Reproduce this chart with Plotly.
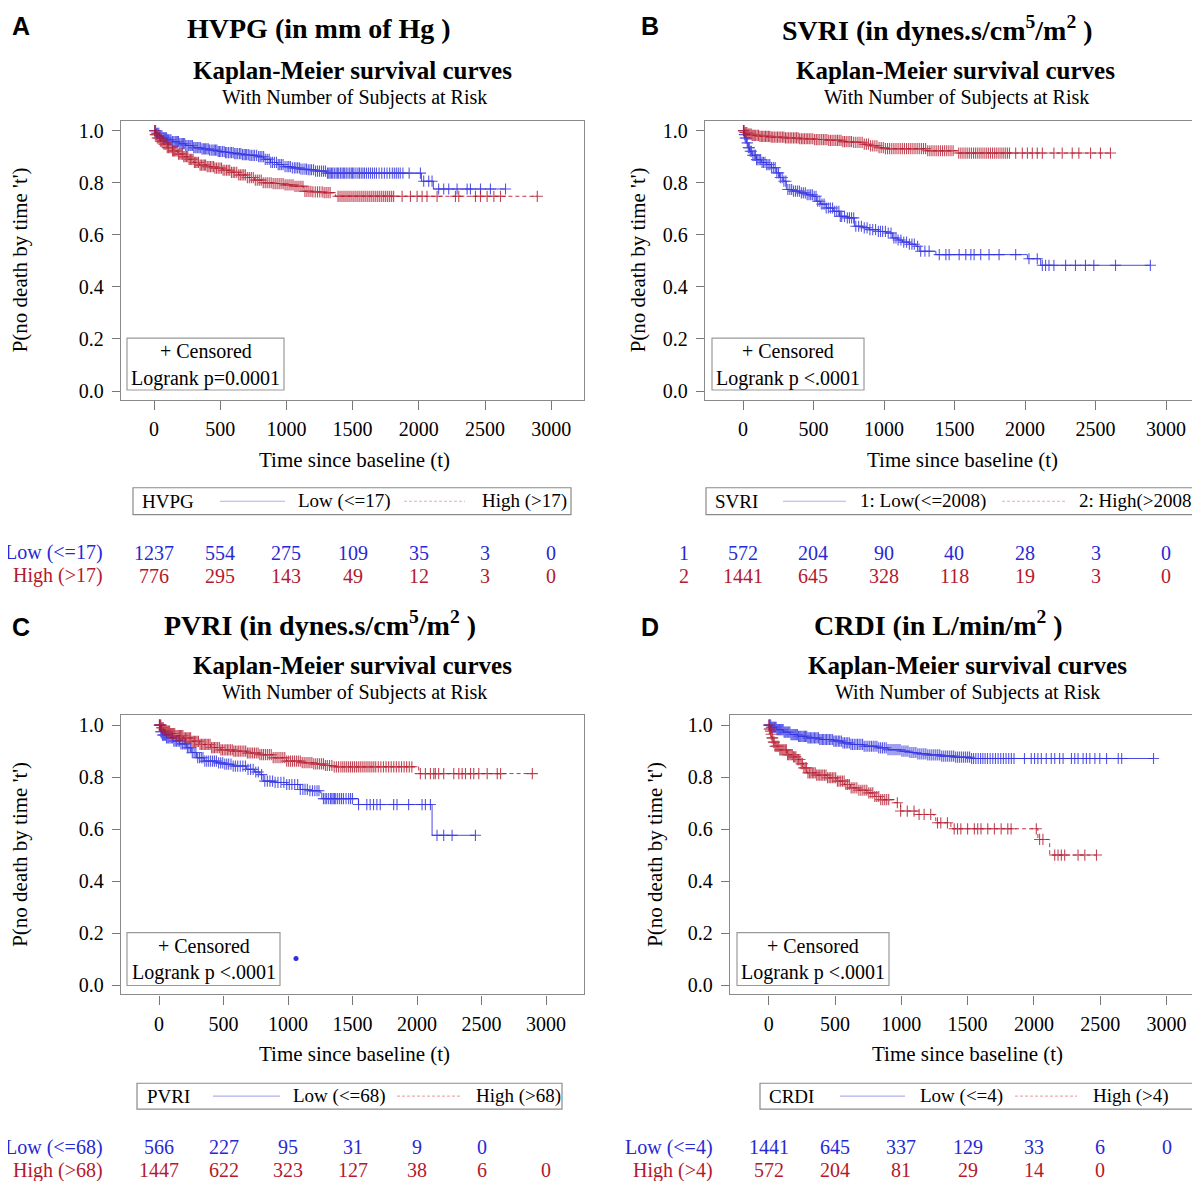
import numpy as np
import plotly.graph_objects as go

# page is rendered with an 8px body margin: figure coordinates are shifted by OFF
OFF = 8
W, H = 1200 - OFF, 1181 - OFF
SERIF = "Liberation Serif"
SANS = "Liberation Sans"
BLUE = "rgb(45,45,225)"
RED = "rgb(180,22,42)"
BLUE_TXT = "rgb(40,40,215)"
RED_TXT = "rgb(180,25,45)"

# ---------------- data ----------------
risk_times = [0, 500, 1000, 1500, 2000, 2500, 3000]
x_ticks = [0, 500, 1000, 1500, 2000, 2500, 3000]
y_ticks = [0.0, 0.2, 0.4, 0.6, 0.8, 1.0]

# Panel A: HVPG
a_low_t = [0, 15, 40, 70, 100, 140, 190, 240, 300, 360, 420, 480, 540, 600, 660, 720, 780, 830, 880, 930, 980, 1040, 1100, 1160, 1220, 1300, 2020, 2110]
a_low_s = [1.0, 0.99, 0.98, 0.972, 0.965, 0.958, 0.95, 0.943, 0.935, 0.93, 0.925, 0.92, 0.916, 0.912, 0.908, 0.905, 0.9, 0.89, 0.878, 0.87, 0.862, 0.857, 0.852, 0.85, 0.845, 0.837, 0.806, 0.776]
a_low_cens = [6, 12, 20, 28, 36, 45, 52, 60, 70, 78, 86, 95, 102, 110, 120, 128, 140, 150, 160, 168, 176, 185, 195, 205, 214, 222, 232, 240, 250, 262, 272, 280, 290, 300, 310, 318, 330, 340, 350, 362, 372, 380, 390, 400, 410, 420, 432, 445, 455, 465, 475, 485, 495, 505, 518, 530, 540, 550, 562, 575, 586, 598, 610, 620, 632, 645, 656, 668, 680, 690, 700, 712, 724, 735, 748, 760, 775, 790, 802, 815, 828, 840, 855, 870, 882, 895, 910, 925, 938, 950, 962, 975, 990, 1005, 1018, 1030, 1045, 1060, 1072, 1085, 1098, 1110, 1125, 1140, 1152, 1165, 1178, 1190, 1205, 1220, 1235, 1250, 1265, 1280, 1295, 1310, 1320, 1330, 1340, 1350, 1362, 1375, 1385, 1395, 1408, 1420, 1430, 1440, 1452, 1465, 1478, 1490, 1500, 1510, 1525, 1540, 1552, 1565, 1578, 1590, 1605, 1620, 1635, 1650, 1665, 1680, 1700, 1720, 1740, 1760, 1780, 1800, 1815, 1830, 1845, 1860, 1880, 1927, 2012, 2037, 2075, 2100, 2150, 2188, 2226, 2289, 2365, 2390, 2466, 2541, 2655]
a_high_t = [0, 10, 25, 45, 70, 100, 140, 180, 220, 260, 300, 340, 400, 460, 520, 580, 640, 700, 760, 820, 900, 980, 1060, 1130, 1200, 1280, 1370]
a_high_s = [1.0, 0.985, 0.972, 0.96, 0.948, 0.935, 0.922, 0.91, 0.9, 0.89, 0.878, 0.868, 0.862, 0.856, 0.848, 0.84, 0.83, 0.82, 0.81, 0.8, 0.797, 0.792, 0.786, 0.767, 0.765, 0.762, 0.748]
a_high_cens = [5, 10, 17, 25, 32, 40, 48, 58, 66, 75, 84, 92, 100, 110, 120, 130, 140, 148, 156, 165, 175, 185, 195, 205, 215, 225, 235, 245, 255, 265, 275, 285, 295, 305, 315, 325, 336, 348, 358, 370, 380, 390, 402, 415, 426, 438, 450, 460, 472, 485, 498, 510, 522, 535, 548, 560, 572, 585, 598, 610, 625, 640, 652, 665, 678, 690, 705, 720, 735, 750, 765, 780, 795, 810, 825, 840, 855, 870, 885, 900, 915, 930, 945, 960, 975, 990, 1005, 1020, 1035, 1050, 1065, 1080, 1095, 1110, 1125, 1140, 1155, 1170, 1185, 1200, 1218, 1235, 1252, 1270, 1285, 1300, 1315, 1330, 1390, 1405, 1420, 1435, 1450, 1465, 1480, 1495, 1510, 1525, 1540, 1555, 1570, 1585, 1600, 1615, 1630, 1645, 1660, 1675, 1690, 1705, 1720, 1735, 1750, 1765, 1780, 1795, 1810, 1874, 1937, 1987, 2025, 2062, 2138, 2277, 2302, 2428, 2466, 2516, 2567, 2617, 2895]
a_risk_low = [1237, 554, 275, 109, 35, 3, 0]
a_risk_high = [776, 295, 143, 49, 12, 3, 0]

# Panel B: SVRI
b_low_t = [0, 5, 12, 24, 35, 47, 65, 94, 130, 165, 200, 236, 259, 285, 307, 350, 401, 450, 495, 519, 550, 590, 640, 684, 740, 790, 850, 896, 960, 1014, 1061, 1100, 1132, 1180, 1226, 1250, 1368, 2017, 2111]
b_low_s = [1.0, 0.985, 0.972, 0.953, 0.935, 0.921, 0.905, 0.889, 0.878, 0.87, 0.858, 0.838, 0.82, 0.806, 0.774, 0.768, 0.761, 0.754, 0.748, 0.729, 0.718, 0.703, 0.69, 0.671, 0.665, 0.633, 0.627, 0.62, 0.613, 0.607, 0.588, 0.58, 0.572, 0.564, 0.556, 0.537, 0.524, 0.508, 0.483]
b_low_cens = [4, 10, 16, 22, 30, 38, 45, 52, 60, 70, 80, 88, 96, 105, 115, 125, 135, 145, 156, 168, 178, 190, 202, 215, 228, 240, 252, 265, 278, 290, 304, 318, 332, 345, 358, 372, 386, 400, 414, 428, 442, 455, 468, 480, 492, 505, 518, 530, 545, 560, 575, 590, 605, 620, 635, 650, 665, 680, 690, 700, 720, 740, 755, 770, 785, 800, 820, 840, 860, 880, 900, 920, 940, 960, 975, 990, 1010, 1030, 1050, 1070, 1085, 1100, 1120, 1140, 1160, 1180, 1198, 1215, 1238, 1260, 1290, 1320, 1392, 1439, 1462, 1533, 1580, 1616, 1639, 1686, 1745, 1816, 1934, 2028, 2087, 2123, 2146, 2170, 2205, 2288, 2358, 2429, 2488, 2642, 2889]
b_high_t = [0, 10, 30, 60, 120, 200, 300, 400, 500, 600, 700, 780, 850, 900, 960, 1000, 1300, 1520]
b_high_s = [1.0, 0.993, 0.987, 0.982, 0.978, 0.975, 0.972, 0.969, 0.966, 0.963, 0.958, 0.955, 0.948, 0.942, 0.935, 0.931, 0.923, 0.914]
b_high_cens = [3, 8, 14, 20, 27, 35, 42, 50, 58, 65, 72, 80, 90, 100, 110, 120, 130, 140, 150, 160, 170, 180, 190, 200, 211, 222, 234, 245, 256, 268, 279, 290, 301, 312, 324, 335, 346, 358, 369, 380, 391, 402, 414, 425, 436, 448, 459, 470, 482, 495, 508, 520, 532, 545, 558, 570, 582, 595, 608, 620, 632, 645, 658, 670, 682, 695, 708, 720, 732, 745, 758, 770, 785, 800, 815, 830, 845, 860, 875, 890, 905, 920, 935, 950, 965, 980, 995, 1010, 1025, 1040, 1055, 1070, 1085, 1100, 1115, 1130, 1145, 1160, 1175, 1190, 1205, 1220, 1235, 1250, 1265, 1280, 1295, 1310, 1325, 1340, 1355, 1370, 1385, 1400, 1415, 1430, 1445, 1460, 1475, 1490, 1530, 1545, 1560, 1575, 1590, 1605, 1620, 1635, 1650, 1665, 1680, 1695, 1710, 1725, 1740, 1755, 1770, 1785, 1800, 1815, 1830, 1845, 1860, 1875, 1890, 1934, 1981, 2017, 2052, 2087, 2123, 2205, 2264, 2335, 2382, 2465, 2535, 2606]
b_risk_low = [572, 204, 90, 40, 28, 3, 0]
b_risk_high = [1441, 645, 328, 118, 19, 3, 0]

# Panel C: PVRI
c_low_t = [0, 10, 25, 57, 109, 160, 212, 250, 290, 350, 446, 510, 575, 679, 740, 782, 808, 900, 990, 1093, 1160, 1249, 1262, 1546, 2117]
c_low_s = [1.0, 0.975, 0.962, 0.951, 0.939, 0.928, 0.913, 0.895, 0.875, 0.862, 0.855, 0.85, 0.843, 0.83, 0.82, 0.81, 0.785, 0.78, 0.772, 0.753, 0.748, 0.74, 0.718, 0.695, 0.577]
c_low_cens = [4, 8, 14, 20, 27, 35, 42, 50, 58, 68, 76, 85, 95, 105, 115, 125, 136, 148, 158, 170, 182, 195, 208, 220, 232, 245, 258, 272, 286, 300, 314, 328, 341, 355, 370, 385, 400, 415, 430, 445, 462, 478, 494, 510, 525, 540, 558, 575, 592, 610, 630, 650, 670, 690, 710, 730, 750, 770, 795, 820, 840, 860, 880, 900, 922, 945, 968, 990, 1010, 1030, 1052, 1075, 1095, 1115, 1132, 1150, 1170, 1190, 1208, 1225, 1240, 1275, 1288, 1300, 1315, 1330, 1340, 1350, 1360, 1370, 1385, 1400, 1415, 1430, 1450, 1470, 1485, 1500, 1547, 1611, 1637, 1663, 1689, 1715, 1819, 1845, 1935, 2039, 2065, 2104, 2155, 2207, 2272, 2453]
c_high_t = [0, 15, 35, 57, 90, 130, 187, 250, 316, 400, 480, 575, 680, 782, 880, 990, 1100, 1197, 1280, 1352, 2013]
c_high_s = [1.0, 0.99, 0.982, 0.977, 0.968, 0.96, 0.951, 0.938, 0.926, 0.914, 0.905, 0.9, 0.893, 0.887, 0.875, 0.862, 0.856, 0.851, 0.845, 0.84, 0.814]
c_high_cens = [3, 8, 14, 20, 26, 33, 40, 46, 53, 60, 68, 75, 82, 90, 98, 105, 114, 122, 131, 140, 149, 158, 167, 176, 185, 195, 205, 215, 225, 235, 245, 255, 265, 275, 285, 295, 306, 318, 329, 340, 351, 362, 373, 385, 396, 408, 419, 430, 442, 455, 468, 480, 492, 505, 518, 530, 542, 555, 568, 580, 592, 605, 618, 630, 644, 658, 672, 685, 698, 712, 726, 740, 754, 768, 782, 796, 810, 825, 840, 855, 870, 885, 900, 915, 930, 945, 960, 975, 990, 1005, 1020, 1035, 1050, 1065, 1080, 1095, 1110, 1125, 1140, 1155, 1170, 1185, 1200, 1215, 1230, 1245, 1260, 1275, 1290, 1305, 1322, 1340, 1358, 1375, 1392, 1410, 1425, 1440, 1455, 1470, 1485, 1500, 1515, 1530, 1545, 1560, 1575, 1590, 1605, 1620, 1635, 1650, 1665, 1680, 1700, 1720, 1740, 1760, 1780, 1800, 1820, 1840, 1860, 1880, 1900, 1920, 1940, 1960, 2026, 2065, 2104, 2130, 2142, 2168, 2207, 2285, 2324, 2350, 2376, 2415, 2440, 2479, 2544, 2622, 2648, 2894]
c_dot_t = [1062]
c_dot_s = [0.104]
c_risk_low = [566, 227, 95, 31, 9, 0]
c_risk_high = [1447, 622, 323, 127, 38, 6, 0]

# Panel D: CRDI
d_low_t = [0, 20, 61, 110, 162, 220, 288, 380, 490, 560, 616, 720, 818, 900, 995, 1060, 1121, 1200, 1298, 1400, 1525]
d_low_s = [1.0, 0.992, 0.983, 0.973, 0.964, 0.957, 0.951, 0.945, 0.939, 0.932, 0.926, 0.919, 0.913, 0.906, 0.9, 0.895, 0.89, 0.886, 0.881, 0.877, 0.872]
d_low_cens = [3, 6, 10, 15, 20, 26, 32, 38, 44, 50, 56, 62, 68, 75, 82, 88, 95, 102, 109, 116, 123, 130, 138, 145, 152, 160, 168, 176, 184, 192, 200, 208, 216, 225, 234, 242, 251, 260, 269, 278, 287, 296, 305, 315, 325, 335, 345, 355, 365, 375, 385, 395, 405, 415, 426, 436, 447, 458, 469, 480, 491, 502, 513, 525, 536, 548, 560, 572, 584, 596, 608, 620, 632, 645, 658, 670, 682, 695, 708, 720, 734, 748, 762, 775, 788, 802, 816, 830, 844, 858, 872, 886, 900, 915, 930, 945, 960, 975, 990, 1005, 1020, 1035, 1050, 1065, 1080, 1095, 1110, 1125, 1140, 1155, 1170, 1185, 1200, 1215, 1230, 1245, 1260, 1275, 1290, 1305, 1320, 1335, 1350, 1365, 1380, 1395, 1410, 1425, 1440, 1455, 1470, 1485, 1500, 1515, 1530, 1545, 1562, 1580, 1598, 1615, 1632, 1650, 1670, 1690, 1710, 1730, 1750, 1770, 1790, 1810, 1830, 1850, 1929, 1980, 2005, 2030, 2056, 2093, 2131, 2157, 2194, 2220, 2283, 2308, 2333, 2371, 2396, 2422, 2460, 2497, 2548, 2636, 2662, 2902]
d_high_t = [0, 5, 10, 15, 23, 35, 48, 80, 136, 180, 212, 240, 263, 288, 360, 439, 515, 570, 616, 680, 742, 800, 843, 944, 995, 1121, 1247, 1260, 1374, 2030, 2119]
d_high_s = [1.0, 0.985, 0.977, 0.965, 0.951, 0.935, 0.919, 0.905, 0.887, 0.878, 0.868, 0.852, 0.836, 0.817, 0.808, 0.798, 0.785, 0.772, 0.759, 0.75, 0.74, 0.726, 0.714, 0.702, 0.67, 0.657, 0.644, 0.625, 0.602, 0.561, 0.501]
d_high_cens = [2, 5, 9, 14, 19, 25, 30, 36, 42, 48, 55, 62, 69, 76, 84, 92, 100, 108, 116, 125, 133, 142, 151, 160, 169, 178, 187, 196, 205, 215, 225, 235, 245, 255, 265, 275, 285, 296, 307, 318, 329, 340, 351, 362, 373, 385, 396, 408, 420, 432, 444, 456, 468, 480, 492, 505, 518, 530, 543, 556, 569, 582, 595, 608, 622, 636, 650, 665, 680, 695, 710, 725, 740, 755, 770, 785, 800, 815, 830, 845, 860, 875, 890, 905, 970, 995, 1045, 1096, 1134, 1172, 1222, 1273, 1298, 1348, 1399, 1424, 1449, 1500, 1551, 1576, 1601, 1652, 1702, 1753, 1803, 1828, 2018, 2043, 2068, 2157, 2182, 2207, 2232, 2333, 2384, 2472]
d_risk_low = [1441, 645, 337, 129, 33, 6, 0]
d_risk_high = [572, 204, 81, 29, 14, 0]

# ---------------- text / layout config ----------------
panels = [
    dict(letter="A", title="HVPG (in mm of Hg )", var="HVPG",
         low_lab="Low (&lt;=17)", high_lab="High (&gt;17)", row_low="Low (&lt;=17)", row_high="High (&gt;17)",
         logrank="Logrank p=0.0001",
         low=(a_low_t, a_low_s, a_low_cens), high=(a_high_t, a_high_s, a_high_cens),
         risk=(a_risk_low, a_risk_high),
         box=(121, 584, 120, 400), xz=154, dx=66.2, y1=130, y0=391,
         title_x=319, title_y=28, km_x=352, wn_x=354, xt_x=354,
         ylab_x=20, letter_x=21, letter_y=25,
         cbox=(127, 284, 338, 390),
         leg=dict(box=(133, 571, 488, 515), var_x=140, l1=(220, 285), t1=296, l2=(404, 465), t2=480),
         row_x=105, row_anchor="right", rows_y=(553, 576)),
    dict(letter="B", title="SVRI (in dynes.s/cm<sup>5</sup>/m<sup>2</sup> )", var="SVRI",
         low_lab="1: Low(&lt;=2008)", high_lab="2: High(&gt;2008)", row_low="1", row_high="2",
         logrank="Logrank p &lt;.0001",
         low=(b_low_t, b_low_s, b_low_cens), high=(b_high_t, b_high_s, b_high_cens),
         risk=(b_risk_low, b_risk_high),
         box=(705, 1199, 120, 400), xz=743, dx=70.5, y1=130, y0=391,
         title_x=937, title_y=28, km_x=955, wn_x=956, xt_x=962,
         ylab_x=638, letter_x=650, letter_y=25,
         cbox=(712, 864, 338, 390),
         leg=dict(box=(706, 1199, 488, 515), var_x=713, l1=(783, 846), t1=858, l2=(1002, 1065), t2=1077),
         row_x=684, row_anchor="center", rows_y=(553, 576)),
    dict(letter="C", title="PVRI (in dynes.s/cm<sup>5</sup>/m<sup>2</sup> )", var="PVRI",
         low_lab="Low (&lt;=68)", high_lab="High (&gt;68)", row_low="Low (&lt;=68)", row_high="High (&gt;68)",
         logrank="Logrank p &lt;.0001",
         low=(c_low_t, c_low_s, c_low_cens), high=(c_high_t, c_high_s, c_high_cens),
         risk=(c_risk_low, c_risk_high),
         box=(121, 584, 716, 996), xz=159, dx=64.5, y1=726, y0=987,
         title_x=320, title_y=624, km_x=352, wn_x=354, xt_x=354,
         ylab_x=20, letter_x=21, letter_y=628,
         cbox=(127, 280, 934, 987),
         leg=dict(box=(137, 562, 1085, 1111), var_x=145, l1=(213, 280), t1=291, l2=(397, 462), t2=474),
         row_x=105, row_anchor="right", rows_y=(1149, 1172)),
    dict(letter="D", title="CRDI (in L/min/m<sup>2</sup> )", var="CRDI",
         low_lab="Low (&lt;=4)", high_lab="High (&gt;4)", row_low="Low (&lt;=4)", row_high="High (&gt;4)",
         logrank="Logrank p &lt;.0001",
         low=(d_low_t, d_low_s, d_low_cens), high=(d_high_t, d_high_s, d_high_cens),
         risk=(d_risk_low, d_risk_high),
         box=(730, 1199, 716, 996), xz=768.7, dx=66.3, y1=726, y0=987,
         title_x=938, title_y=624, km_x=967, wn_x=968, xt_x=967,
         ylab_x=655, letter_x=650, letter_y=628,
         cbox=(737, 889, 934, 987),
         leg=dict(box=(760, 1195, 1085, 1111), var_x=767, l1=(840, 905), t1=918, l2=(1015, 1077), t2=1091),
         row_x=715, row_anchor="right", rows_y=(1149, 1172)),
]


def px(x):
    return (x - OFF) / W


def py(y):
    return 1 - (y - OFF) / H


def step_at(t, s, q):
    t = np.asarray(t, float)
    s = np.asarray(s, float)
    idx = np.searchsorted(t, np.asarray(q, float), side="right") - 1
    return s[np.clip(idx, 0, len(s) - 1)]


fig = go.Figure()
annotations = []
shapes = []
layout = {}


def ann(text, x, y, size=19, color="black", xanchor="center", family=SERIF, angle=0,
        xref="paper", yref="paper"):
    annotations.append(dict(text=text, x=x, y=y, xref=xref, yref=yref, showarrow=False,
                            xanchor=xanchor, yanchor="middle", textangle=angle,
                            font=dict(family=family, size=size, color=color)))


for i, p in enumerate(panels, start=1):
    xa = "x" if i == 1 else f"x{i}"
    ya = "y" if i == 1 else f"y{i}"
    left, right, top, bottom = p["box"]
    xmin = (left - p["xz"]) / p["dx"] * 500
    xmax = (right - p["xz"]) / p["dx"] * 500
    ymin = (p["y0"] - bottom) / (p["y0"] - p["y1"])
    ymax = (p["y0"] - top) / (p["y0"] - p["y1"])

    axis_common = dict(showgrid=False, zeroline=False, showline=True, mirror=True,
                       linecolor="#8a8a8a", linewidth=1.3, ticks="outside",
                       tickcolor="#777", tickwidth=1.2,
                       tickfont=dict(family=SERIF, size=20, color="black"))
    layout["xaxis" if i == 1 else f"xaxis{i}"] = dict(
        axis_common, domain=[px(left), min(px(right), 1.0)], range=[xmin, xmax],
        tickvals=x_ticks, ticklen=9, ticklabelstandoff=2,
        anchor=ya)
    layout["yaxis" if i == 1 else f"yaxis{i}"] = dict(
        axis_common, domain=[py(bottom), py(top)], range=[ymin, ymax],
        tickvals=y_ticks, tickformat=".1f", ticklen=8, ticklabelstandoff=4,
        anchor=xa)

    for key, color, dash in (("low", BLUE, "solid"), ("high", RED, "4px,3px")):
        t, s, cens = p[key]
        t_end = max(max(cens), t[-1])
        lx = list(t) + [t_end]
        ly = list(s) + [s[-1]]
        fig.add_trace(go.Scatter(x=lx, y=ly, mode="lines", line_shape="hv",
                                 line=dict(color=color, width=1, dash=dash),
                                 opacity=0.85, xaxis=xa, yaxis=ya, showlegend=False,
                                 hoverinfo="skip"))
        fig.add_trace(go.Scatter(x=cens, y=step_at(t, s, cens), mode="markers",
                                 marker=dict(symbol="cross-thin", size=8,
                                             line=dict(color=color, width=1.1)),
                                 opacity=0.8, xaxis=xa, yaxis=ya, showlegend=False,
                                 hoverinfo="skip"))
    if p["letter"] == "C":
        fig.add_trace(go.Scatter(x=c_dot_t, y=c_dot_s, mode="markers",
                                 marker=dict(color=BLUE, size=5), xaxis=xa, yaxis=ya,
                                 showlegend=False, hoverinfo="skip"))

    # texts
    ann(f"<b>{p['letter']}</b>", px(p["letter_x"]), py(p["letter_y"]), size=25,
        family=SANS, xanchor="center")
    ann(f"<b>{p['title']}</b>", px(p["title_x"]), py(p["title_y"]), size=28)
    ann("<b>Kaplan-Meier survival curves</b>", px(p["km_x"]), py(p["title_y"] + 42), size=25)
    ann("With Number of Subjects at Risk", px(p["wn_x"]), py(p["title_y"] + 69), size=20)
    ann("Time since baseline (t)", px(p["xt_x"]), py(bottom + 60), size=21)
    ann("P(no death by time 't')", px(p["ylab_x"]), py((top + bottom) / 2), size=21, angle=-90)

    # censored box
    cl, cr, ct, cb = p["cbox"]
    shapes.append(dict(type="rect", xref="paper", yref="paper", x0=px(cl), x1=px(cr),
                       y0=py(cb), y1=py(ct), line=dict(color="#9a9a9a", width=1.2),
                       fillcolor="white"))
    ann("+ Censored", px((cl + cr) / 2), py(ct + 13), size=20)
    ann(p["logrank"], px((cl + cr) / 2), py(ct + 40), size=20)

    # legend box
    lg = p["leg"]
    bl, br, bt, bb = lg["box"]
    ym = (bt + bb) / 2
    shapes.append(dict(type="rect", xref="paper", yref="paper", x0=px(bl), x1=min(px(br), 1.0),
                       y0=py(bb), y1=py(bt), line=dict(color="#8a8a8a", width=1.2)))
    shapes.append(dict(type="line", xref="paper", yref="paper", x0=px(lg["l1"][0]),
                       x1=px(lg["l1"][1]), y0=py(ym), y1=py(ym),
                       line=dict(color="rgb(175,175,240)", width=1.2)))
    shapes.append(dict(type="line", xref="paper", yref="paper", x0=px(lg["l2"][0]),
                       x1=px(lg["l2"][1]), y0=py(ym), y1=py(ym),
                       line=dict(color="rgb(240,170,175)", width=1.2, dash="3px,2px")))
    ann(p["var"], px(lg["var_x"]), py(ym), size=19, xanchor="left")
    ann(p["low_lab"], px(lg["t1"]), py(ym), size=19, xanchor="left")
    ann(p["high_lab"], px(lg["t2"]), py(ym), size=19, xanchor="left")

    # risk table
    r_low, r_high = p["risk"]
    y_low, y_high = p["rows_y"]
    ann(p["row_low"], px(p["row_x"]), py(y_low), size=20, color=BLUE_TXT, xanchor=p["row_anchor"])
    ann(p["row_high"], px(p["row_x"]), py(y_high), size=20, color=RED_TXT, xanchor=p["row_anchor"])
    for tt, v in zip(risk_times, r_low):
        ann(str(v), tt, py(y_low), size=20, color=BLUE_TXT, xref=xa)
    for tt, v in zip(risk_times, r_high):
        ann(str(v), tt, py(y_high), size=20, color=RED_TXT, xref=xa)

fig.update_layout(width=W, height=H, margin=dict(l=0, r=0, t=0, b=0),
                  paper_bgcolor="white", plot_bgcolor="white",
                  annotations=annotations, shapes=shapes, **layout)
fig.write_html("out.html")
